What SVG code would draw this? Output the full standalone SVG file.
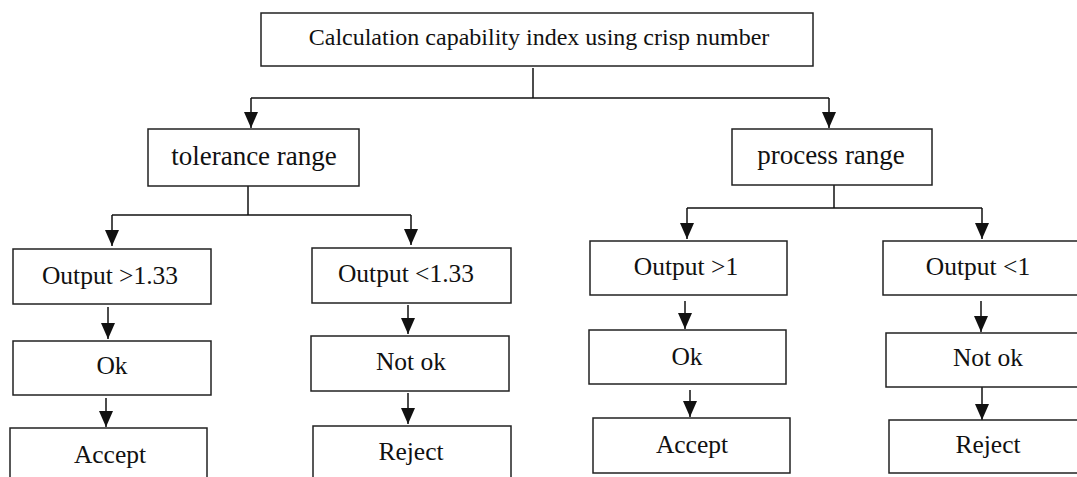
<svg xmlns="http://www.w3.org/2000/svg" width="1077" height="477" viewBox="0 0 1077 477">
<defs>
<marker id="ah" markerUnits="userSpaceOnUse" markerWidth="17" markerHeight="15" refX="16" refY="7" orient="auto">
<path d="M0,0 L16,7 L0,14 z" fill="#111"/>
</marker>
<style>
.b{fill:#fff;stroke:#222;stroke-width:1.5}
text{font-family:"Liberation Serif","Times New Roman",serif;font-size:25.5px;fill:#111;text-anchor:middle}
text.t{font-size:24px}
text.r{font-size:27px}
.c line{stroke:#111;stroke-width:1.5;fill:none}
.a{marker-end:url(#ah)}
</style>
</defs>
<rect width="1077" height="477" fill="#fff"/>
<g class="c" id="connectors">
<line x1="533" y1="68" x2="533" y2="98"/>
<line x1="251" y1="98" x2="829" y2="98"/>
<line class="a" x1="251" y1="98" x2="251" y2="128"/>
<line class="a" x1="829" y1="98" x2="829" y2="128"/>
<line x1="248" y1="186" x2="248" y2="215"/>
<line x1="112" y1="215" x2="411" y2="215"/>
<line class="a" x1="112" y1="215" x2="112" y2="246"/>
<line class="a" x1="411" y1="215" x2="411" y2="245"/>
<line class="a" x1="108" y1="307" x2="108" y2="339"/>
<line class="a" x1="106" y1="398" x2="106" y2="427"/>
<line class="a" x1="408" y1="305" x2="408" y2="334"/>
<line class="a" x1="408" y1="393" x2="408" y2="424"/>
<line x1="834" y1="185" x2="834" y2="208"/>
<line x1="687" y1="208" x2="982" y2="208"/>
<line class="a" x1="687" y1="208" x2="687" y2="239"/>
<line class="a" x1="982" y1="208" x2="982" y2="239"/>
<line class="a" x1="685" y1="301" x2="685" y2="329"/>
<line class="a" x1="690" y1="390" x2="690" y2="417"/>
<line class="a" x1="981" y1="301" x2="981" y2="332"/>
<line class="a" x1="982" y1="387" x2="982" y2="420"/>
</g>
<g id="n-top"><rect class="b" x="261" y="13" width="552" height="53"/><text class="t" x="539" y="45">Calculation capability index using crisp number</text></g>
<g id="n-tol"><rect class="b" x="148" y="129" width="211" height="57"/><text class="r" x="254" y="165">tolerance range</text></g>
<g id="n-proc"><rect class="b" x="732" y="129" width="200" height="56"/><text class="r" x="831" y="164">process range</text></g>
<g id="n-o133g"><rect class="b" x="13" y="249" width="198" height="55"/><text x="110" y="284">Output &gt;1.33</text></g>
<g id="n-ok1"><rect class="b" x="13" y="341" width="198" height="54"/><text x="112" y="374">Ok</text></g>
<g id="n-acc1"><rect class="b" x="10" y="428" width="197" height="60"/><text x="110" y="463">Accept</text></g>
<g id="n-o133l"><rect class="b" x="312" y="248" width="199" height="55"/><text x="406" y="282">Output &lt;1.33</text></g>
<g id="n-nok1"><rect class="b" x="311" y="336" width="198" height="55"/><text x="411" y="370">Not ok</text></g>
<g id="n-rej1"><rect class="b" x="313" y="426" width="198" height="60"/><text x="411" y="460">Reject</text></g>
<g id="n-o1g"><rect class="b" x="590" y="241" width="197" height="54"/><text x="686" y="275">Output &gt;1</text></g>
<g id="n-ok2"><rect class="b" x="589" y="330" width="197" height="54"/><text x="687" y="365">Ok</text></g>
<g id="n-acc2"><rect class="b" x="593" y="418" width="197" height="55"/><text x="692" y="453">Accept</text></g>
<g id="n-o1l"><rect class="b" x="883" y="241" width="210" height="54"/><text x="978" y="275">Output &lt;1</text></g>
<g id="n-nok2"><rect class="b" x="886" y="333" width="210" height="54"/><text x="988" y="366">Not ok</text></g>
<g id="n-rej2"><rect class="b" x="889" y="420" width="210" height="53"/><text x="988" y="453">Reject</text></g>
</svg>
